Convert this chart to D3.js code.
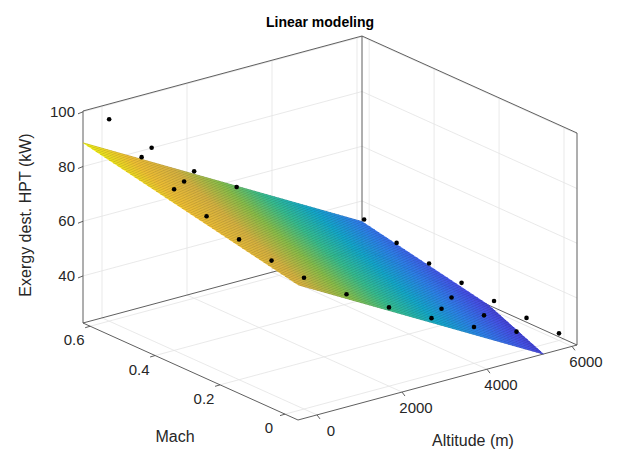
<!DOCTYPE html>
<html lang="en">
<head>
<meta charset="UTF-8">
<title>Linear modeling</title>
<script src="https://d3js.org/d3.v7.min.js"></script>
<style>
  body { margin: 0; background: white; }
  svg { font-family: "Liberation Sans", Arial, sans-serif; }
  .tick-label { font-size: 15px; fill: #262626; }
  .axis-label { font-size: 16px; fill: #262626; }
  .grid { stroke: #e3e3e3; stroke-width: 0.8; fill: none; }
  .box { stroke: #4d4d4d; stroke-width: 0.9; fill: none; }
</style>
</head>
<body>
<script>
// measured points (altitude m, Mach, exergy destruction kW)
const altitude = [0, 0, 0, 0, 0, 0, 0,
                  6000, 6000, 6000, 6000, 6000, 6000, 6000,
                  1000, 2000, 3000, 4000, 5000,
                  1000, 2000, 3000, 1000, 5000, 5000, 4000];
const mach = [0, 0.1, 0.2, 0.3, 0.4, 0.5, 0.6,
              0, 0.1, 0.2, 0.3, 0.4, 0.5, 0.6,
              0, 0, 0, 0, 0,
              0.6, 0.6, 0.6, 0.5, 0.2, 0.1, 0.1];
const exergy = [70.8, 71.7, 74.1, 77.2, 81.7, 88.1, 96.6,
                25.4, 25.7, 26.5, 27.8, 29.5, 31.7, 34.9,
                60.6, 51.6, 43.5, 36.1, 30.2,
                82.0, 69.2, 59.3, 75.0, 32.0, 30.8, 37.4];

// linear model z = b0 + bMach*Mach + bAlt*Alt
const intercept = 69.4, coefMach = 24.8, coefAlt = -0.00856;

const altLimits = [-447, 6118], machLimits = [-0.04, 0.622], zLimits = [22.8, 100.3];
const altTicks = [0, 2000, 4000, 6000];
const machTicks = [0, 0.2, 0.4, 0.6];
const zTicks = [40, 60, 80, 100];

const W = 640, H = 473;
const svg = d3.select("body").append("svg").attr("width", W).attr("height", H);

// projection: front-bottom corner plus one screen vector per axis
const origin = [298, 420];
const vAlt = [279, -75], vMach = [-215, -97], vZ = [0, -212];
const sAlt = d3.scaleLinear().domain(altLimits).range([0, 1]);
const sMach = d3.scaleLinear().domain(machLimits).range([0, 1]);
const sZ = d3.scaleLinear().domain(zLimits).range([0, 1]);
function proj(a, m, z) {
  const ta = sAlt(a), tm = sMach(m), tz = sZ(z);
  return [origin[0] + ta * vAlt[0] + tm * vMach[0] + tz * vZ[0],
          origin[1] + ta * vAlt[1] + tm * vMach[1] + tz * vZ[1]];
}
const line = pts => "M" + pts.map(p => p.join(",")).join("L");

const [a0, a1] = altLimits, [m0, m1] = machLimits, [z0, z1] = zLimits;
const g = svg.append("g");

// grid lines on floor and back walls
altTicks.forEach(a => {
  g.append("path").attr("class", "grid").attr("d", line([proj(a, m0, z0), proj(a, m1, z0), proj(a, m1, z1)]));
});
machTicks.forEach(m => {
  g.append("path").attr("class", "grid").attr("d", line([proj(a0, m, z0), proj(a1, m, z0), proj(a1, m, z1)]));
});
zTicks.forEach(z => {
  g.append("path").attr("class", "grid").attr("d", line([proj(a0, m1, z), proj(a1, m1, z), proj(a1, m0, z)]));
});

// back box lines
g.append("path").attr("class", "box").attr("d", line([proj(a0, m1, z0), proj(a0, m1, z1), proj(a1, m1, z1), proj(a1, m0, z1), proj(a1, m0, z0)]));
g.append("path").attr("class", "box").attr("d", line([proj(a0, m1, z0), proj(a1, m1, z0), proj(a1, m0, z0)]));
g.append("path").attr("class", "box").attr("d", line([proj(a1, m1, z0), proj(a1, m1, z1)]));
// front axes
g.append("path").attr("class", "box").attr("d", line([proj(a0, m1, z0), proj(a0, m0, z0), proj(a1, m0, z0)]));

const plane = (a, m) => intercept + coefMach * m + coefAlt * a;

// parula colormap
const parulaStops = [[0.2422,0.1504,0.6603],[0.2810,0.3228,0.9579],[0.1786,0.5289,0.9682],
  [0.0689,0.6948,0.8394],[0.2161,0.7843,0.5923],[0.5709,0.7923,0.2986],
  [0.8906,0.7386,0.2626],[0.9932,0.7906,0.2094],[0.9769,0.9839,0.0805]];
const parula = d3.scaleLinear().domain(d3.range(parulaStops.length).map(i => i / (parulaStops.length - 1)))
  .range(parulaStops.map(c => d3.rgb(c[0] * 255, c[1] * 255, c[2] * 255)));
const cz = [plane(a0, m0), plane(a0, m1), plane(a1, m0), plane(a1, m1)];
const cScale = d3.scaleLinear().domain(d3.extent(cz)).range([0, 1]).clamp(true);

// clip a polygon to z >= z0
function clip(poly) {
  const out = [];
  for (let i = 0; i < poly.length; i++) {
    const p = poly[i], q = poly[(i + 1) % poly.length];
    const pin = p[2] >= z0, qin = q[2] >= z0;
    if (pin) out.push(p);
    if (pin !== qin) {
      const t = (z0 - p[2]) / (q[2] - p[2]);
      out.push([p[0] + t * (q[0] - p[0]), p[1] + t * (q[1] - p[1]), z0]);
    }
  }
  return out;
}

const nA = 70, nM = 50;
const surf = g.append("g");
for (let i = 0; i < nA; i++) {
  for (let j = 0; j < nM; j++) {
    const aa = a0 + (a1 - a0) * i / nA, ab = a0 + (a1 - a0) * (i + 1) / nA;
    const ma = m0 + (m1 - m0) * j / nM, mb = m0 + (m1 - m0) * (j + 1) / nM;
    const poly = clip([[aa, ma, plane(aa, ma)], [ab, ma, plane(ab, ma)], [ab, mb, plane(ab, mb)], [aa, mb, plane(aa, mb)]]);
    if (poly.length < 3) continue;
    const zc = d3.mean(poly, p => p[2]);
    const col = parula(cScale(zc));
    surf.append("path").attr("d", line(poly.map(p => proj(p[0], p[1], p[2]))) + "Z")
      .attr("fill", col).attr("stroke", col).attr("stroke-width", 0.6);
  }
}
// mesh lines along constant Mach
for (let j = 0; j <= nM; j++) {
  const m = m0 + (m1 - m0) * j / nM;
  const aEnd = Math.min(a1, (z0 - intercept - coefMach * m) / coefAlt);
  surf.append("path").attr("d", line([proj(a0, m, plane(a0, m)), proj(aEnd, m, plane(aEnd, m))]))
    .attr("stroke", "rgba(0,0,0,0.3)").attr("stroke-width", 0.6).attr("fill", "none");
}

// measured points
g.append("g").selectAll("circle").data(altitude.map((a, i) => ({a, m: mach[i], z: exergy[i]}))).join("circle")
  .attr("cx", d => proj(d.a, d.m, d.z)[0]).attr("cy", d => proj(d.a, d.m, d.z)[1])
  .attr("r", 2.3).attr("fill", "black");

// ticks and labels
const ticks = g.append("g");
zTicks.forEach(z => {
  const p = proj(a0, m1, z);
  ticks.append("path").attr("class", "box").attr("d", line([p, [p[0] - 5, p[1] + 2]]));
  ticks.append("text").attr("class", "tick-label").attr("x", p[0] - 8).attr("y", p[1] + 5)
    .attr("text-anchor", "end").text(z);
});
machTicks.forEach(m => {
  const p = proj(a0, m, z0);
  ticks.append("path").attr("class", "box").attr("d", line([p, [p[0] - 5, p[1] + 1.5]]));
  ticks.append("text").attr("class", "tick-label").attr("x", p[0] - 16).attr("y", p[1] + 19)
    .attr("text-anchor", "middle").text(m === 0 ? "0" : m.toFixed(1));
});
altTicks.forEach(a => {
  const p = proj(a, m0, z0);
  ticks.append("path").attr("class", "box").attr("d", line([p, [p[0] + 3, p[1] + 4]]));
  ticks.append("text").attr("class", "tick-label").attr("x", p[0] + 14).attr("y", p[1] + 21)
    .attr("text-anchor", "middle").text(a);
});

svg.append("text").attr("class", "axis-label").attr("x", 175).attr("y", 442)
  .attr("text-anchor", "middle").text("Mach");
svg.append("text").attr("class", "axis-label").attr("x", 473).attr("y", 446)
  .attr("text-anchor", "middle").text("Altitude (m)");
svg.append("text").attr("class", "axis-label").attr("transform", "translate(31,215) rotate(-90)")
  .attr("text-anchor", "middle").text("Exergy dest. HPT (kW)");
svg.append("text").attr("x", 320).attr("y", 27).attr("text-anchor", "middle")
  .style("font-size", "14px").style("font-weight", "bold").attr("fill", "black").text("Linear modeling");
</script>
</body>
</html>
